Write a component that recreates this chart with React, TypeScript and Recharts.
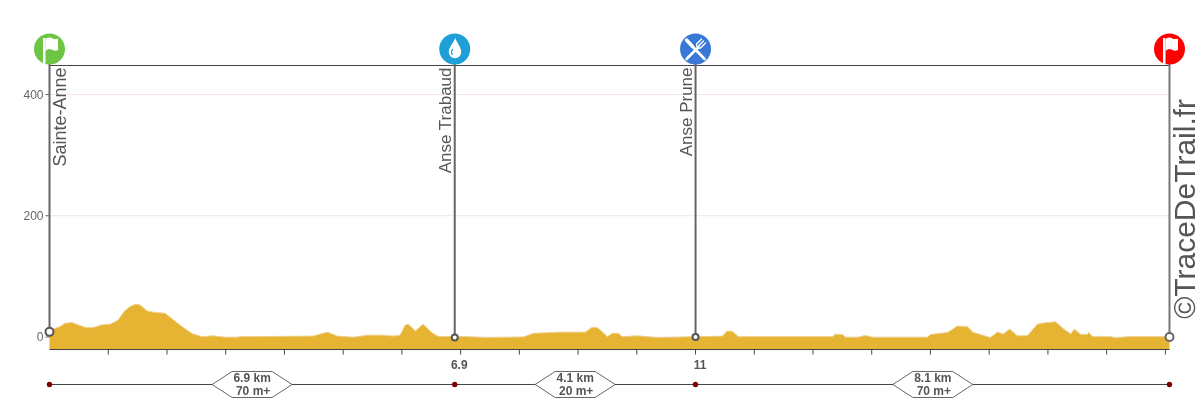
import React from 'react';
import {
  ComposedChart,
  Area,
  XAxis,
  YAxis,
  CartesianGrid,
  ReferenceLine,
  ReferenceDot
} from 'recharts';

const FONT = '"Liberation Sans", Arial, sans-serif';
const TEXT = '#555';

const profileKm = [
  0, 0.09, 0.18, 0.26, 0.38, 0.49, 0.6, 0.74, 0.89, 1.03, 1.17, 1.27, 1.37, 1.46, 1.54, 1.66, 1.76,
  1.97, 2.1, 2.26, 2.44, 2.6, 2.79, 2.99, 3.19, 3.25, 4.49, 4.73, 4.9, 5.17, 5.41, 5.68, 5.85, 5.97,
  6.06, 6.11, 6.23, 6.36, 6.52, 6.62, 7.11, 7.47, 8.07, 8.24, 8.58, 8.7, 9.12, 9.24, 9.34, 9.5, 9.58,
  9.69, 9.75, 10.01, 10.35, 11.46, 11.54, 11.63, 11.73, 12.78, 13.33, 13.38, 13.5, 13.55, 13.76,
  13.89, 14.01, 14.95, 15, 15.29, 15.46, 15.63, 15.72, 16.02, 16.14, 16.24, 16.35, 16.48, 16.65,
  16.82, 16.92, 17.13, 17.27, 17.39, 17.45, 17.56, 17.68, 17.69, 17.76, 18.07, 18.15, 18.37, 19.07
];

const profileElevation = [
  12.7, 14, 17, 22.6, 24, 20, 16, 15.5, 20, 21, 28, 42, 50, 54, 53, 43, 41,
  39, 29, 17, 5, 0.5, 2, -0.5, -0.5, 0.5, 1.5, 8, 1.5, -0.5, 3, 3, 1.5, 3,
  20, 21, 10, 21, 6.5, 1, 0.5, -1, 0, 6, 7.5, 8, 8, 16, 15, 0.5, 6,
  6, 0.5, 2, -1, 1.5, 10, 9, 0.5, 0.5, 0.5, 4.5, 4, -0.5, -0.5,
  2.5, -0.5, -0.5, 4, 7.5, 18, 17, 8, -1, 8, 5, 13, 2, 2,
  21, 23, 25, 13, 5, 13, 4, 4, 8, 0.5, 0.5, -1.5, 0.5, 0.5
];

const waypointKm = [0, 6.9, 11, 19.07];
const waypointElevation = [8.5, -1, 0, 0];
const waypointNames = ['Sainte-Anne', 'Anse Trabaud', 'Anse Prune', ''];
const waypointNameSizes = [18, 17, 17, 17];
const waypointColors = ['#6cc644', '#1f9fd8', '#3a78d8', '#ff0000'];
const waypointIcons = ['flag', 'drop', 'food', 'flag'];
const waypointRadius = [4, 3, 3, 4];
const waypointTicks = ['', '6.9', '11', ''];

const segmentCenterKm = [3.45, 8.95, 15.04];
const segmentDistance = ['6.9 km', '4.1 km', '8.1 km'];
const segmentGain = ['70 m+', '20 m+', '70 m+'];

const kmTicks = [1, 2, 3, 4, 5, 6, 7, 8, 9, 10, 11, 12, 13, 14, 15, 16, 17, 18, 19];
const elevationTicks = [0, 200, 400];

const data = profileKm.map((km, i) => ({ km, elevation: profileElevation[i] }));

const ICON_Y = 475;
const TOP_Y = 447.8;
const BOTTOM_Y = -20.6;
const TICK_LABEL_Y = -45;
const SEGMENT_Y = -78.3;

const Icon = ({ cx, cy, color, kind }: any) => (
  <g transform={`translate(${cx},${cy})`}>
    <circle r={15.5} fill={color} />
    {kind === 'flag' && (
      <g fill="#fff">
        <rect x={-6.5} y={-11} width={2.5} height={26} />
        <path d="M-4,-10 Q0,-12.5 3,-10.5 Q6,-9.5 8.5,-10.5 L8.5,1 Q5,2.5 2,0.5 Q-1,-1 -4,2 Z" />
      </g>
    )}
    {kind === 'drop' && (
      <g>
        <path d="M0.5,-11 C2,-6 6.5,-2 6.5,3 A6.2,6.2 0 0 1 -6,3 C-6,-2 -1,-6 0.5,-11 Z" fill="#fff" />
        <path d="M-2,0 C-3.5,2 -3.5,4 -2.5,6" stroke={color} strokeWidth={1.2} fill="none" />
      </g>
    )}
    {kind === 'food' && (
      <g stroke="#fff" fill="none" strokeLinecap="round">
        <path d="M-9,-9 L-3,-2.5" strokeWidth={3.5} />
        <path d="M-3,-2.5 L9,10" strokeWidth={2.6} />
        <path d="M-9,10 L3,-2" strokeWidth={2.6} />
        <path d="M1,-5 L6,-10 M3,-3 L8,-8 M5,-1 L10,-6 M1,-5 Q1,0 5,-1" strokeWidth={1.3} />
      </g>
    )}
  </g>
);

const Segment = ({ cx, cy, distance, gain }: any) => (
  <g transform={`translate(${cx},${cy})`} fontFamily={FONT} fontWeight="bold" fontSize={12} fill={TEXT} textAnchor="middle">
    <polygon points="-40,0 -20,-13 20,-13 40,0 20,13 -20,13" fill="#fff" stroke="#666" strokeWidth={1} />
    <text x={0} y={-2}>{distance}</text>
    <text x={1} y={11}>{gain}</text>
  </g>
);

export default function App() {
  return (
    <div style={{ position: 'absolute', left: 0, top: 0, width: 1200, height: 400, willChange: 'transform' }}>
      <ComposedChart
        width={1200}
        height={400}
        data={data}
        margin={{ top: 65.5, right: 30.5, bottom: 45.5, left: 0 }}
      >
        <CartesianGrid horizontal vertical={false} stroke="#f5e4ea" />
        <XAxis
          dataKey="km"
          type="number"
          domain={[0, 19.07]}
          ticks={kmTicks}
          interval={0}
          height={5}
          tickSize={5}
          tickFormatter={() => ''}
          stroke="#444"
        />
        <YAxis
          type="number"
          width={49.5}
          domain={[BOTTOM_Y, TOP_Y]}
          ticks={elevationTicks}
          allowDataOverflow
          axisLine={false}
          tickSize={4}
          tick={{ fontSize: 12, fill: '#666', fontFamily: FONT }}
          stroke="#666"
        />
        <Area
          type="linear"
          dataKey="elevation"
          baseValue={BOTTOM_Y}
          stroke="#efcf86"
          strokeWidth={1}
          fill="#e6b332"
          fillOpacity={1}
          dot={false}
          activeDot={false}
          isAnimationActive={false}
        />
        <ReferenceLine y={TOP_Y} stroke="#444" strokeWidth={1} ifOverflow="visible" />

        {/* course row under the plot */}
        <ReferenceLine
          segment={[{ x: 0, y: SEGMENT_Y }, { x: 19.07, y: SEGMENT_Y }]}
          stroke="#444"
          strokeWidth={1}
          ifOverflow="visible"
        />
        {segmentCenterKm.map((km, i) => (
          <ReferenceDot
            key={km}
            x={km}
            y={SEGMENT_Y}
            ifOverflow="visible"
            shape={(p: any) => <Segment cx={p.cx} cy={p.cy} distance={segmentDistance[i]} gain={segmentGain[i]} />}
          />
        ))}

        {waypointKm.map((km, i) => (
          <ReferenceLine
            key={`line-${km}`}
            segment={[{ x: km, y: ICON_Y }, { x: km, y: waypointElevation[i] }]}
            stroke={i === 3 ? '#777' : '#666'}
            strokeWidth={2}
            ifOverflow="visible"
          />
        ))}
        {waypointKm.map((km, i) => (
          <ReferenceDot
            key={`base-${km}`}
            x={km}
            y={waypointElevation[i]}
            r={waypointRadius[i]}
            fill="#fff"
            stroke={i === 3 ? '#666' : '#555'}
            strokeWidth={2}
            ifOverflow="visible"
          />
        ))}
        {waypointKm.map((km, i) => (
          <ReferenceDot
            key={`icon-${km}`}
            x={km}
            y={ICON_Y}
            ifOverflow="visible"
            shape={(p: any) => <Icon cx={p.cx} cy={p.cy} color={waypointColors[i]} kind={waypointIcons[i]} />}
          />
        ))}
        {waypointKm.map((km, i) => (
          <ReferenceDot
            key={`name-${km}`}
            x={km}
            y={TOP_Y}
            ifOverflow="visible"
            shape={(p: any) => (
              <text
                transform={`translate(${p.cx + (i === 0 ? 16 : -3.5)},${p.cy + 2}) rotate(-90)`}
                textAnchor="end"
                fontFamily={FONT}
                fontSize={waypointNameSizes[i]}
                fill={TEXT}
              >
                {waypointNames[i]}
              </text>
            )}
          />
        ))}
        {waypointKm.map((km, i) => (
          <ReferenceDot
            key={`dot-${km}`}
            x={km}
            y={SEGMENT_Y}
            r={2.7}
            fill="#800000"
            stroke="none"
            ifOverflow="visible"
          />
        ))}
        {waypointKm.map((km, i) => (
          <ReferenceDot
            key={`tick-${km}`}
            x={km}
            y={TICK_LABEL_Y}
            ifOverflow="visible"
            shape={(p: any) => (
              <text x={p.cx + 4.5} y={p.cy + 5} textAnchor="middle" fontFamily={FONT} fontWeight="bold" fontSize={12} fill={TEXT}>
                {waypointTicks[i]}
              </text>
            )}
          />
        ))}

        {/* watermark */}
        <ReferenceDot
          x={19.07}
          y={30}
          ifOverflow="visible"
          shape={(p: any) => (
            <text transform={`translate(${p.cx + 25.5},${p.cy}) rotate(-90)`} fontFamily={FONT} fontSize={30} fill={TEXT}>
              ©TraceDeTrail.fr
            </text>
          )}
        />
      </ComposedChart>
    </div>
  );
}
